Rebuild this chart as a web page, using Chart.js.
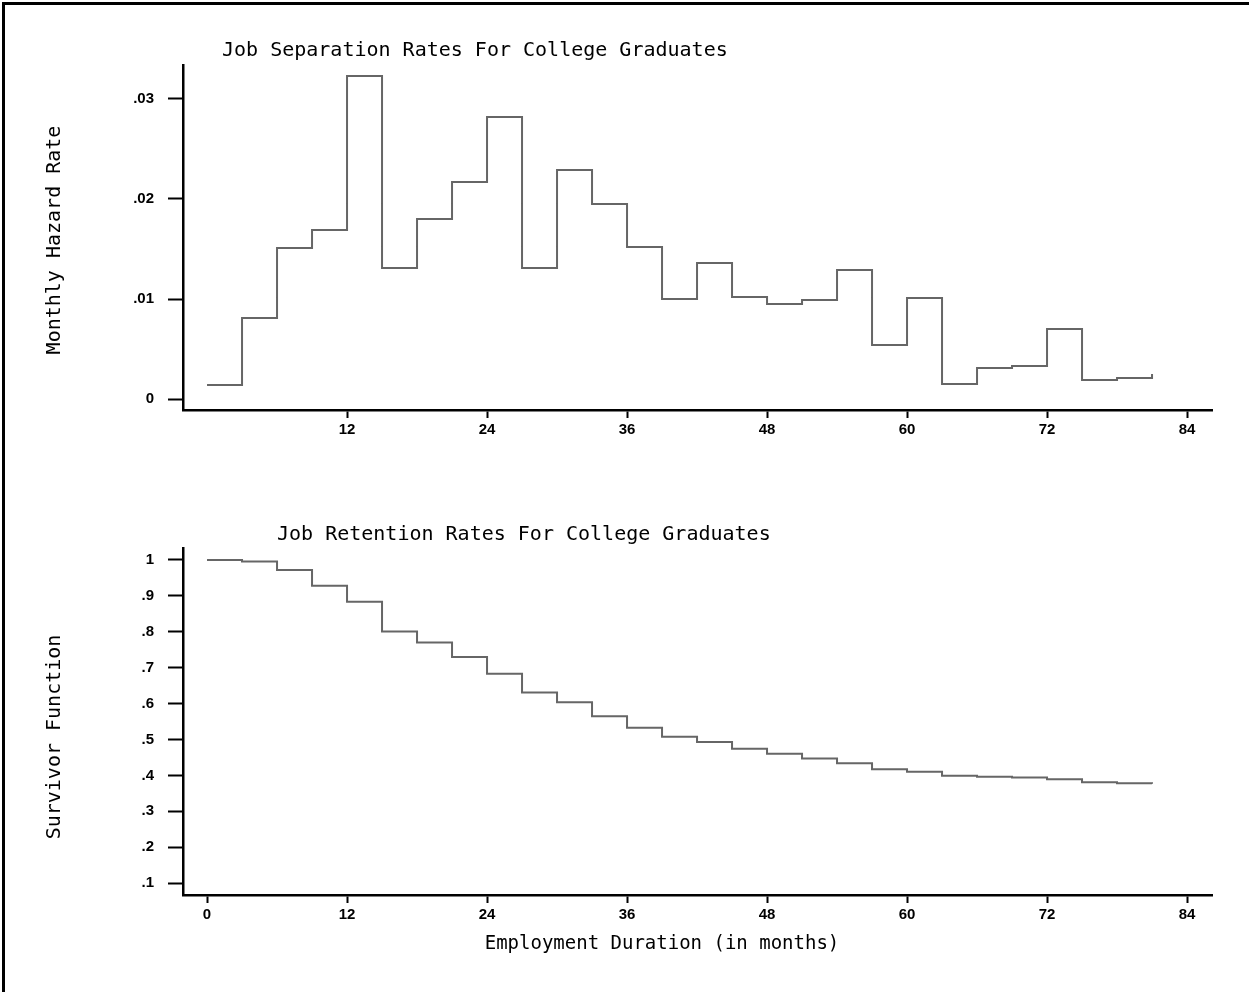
<!DOCTYPE html>
<html>
<head>
<meta charset="utf-8">
<script src="https://cdn.jsdelivr.net/npm/chart.js@4.4.1/dist/chart.umd.min.js"></script>
<style>
    html, body { margin: 0; padding: 0; background: #fff; }
    #page { position: relative; width: 1249px; height: 992px; overflow: hidden; }
    #frame { position: absolute; left: 2px; top: 2px; width: 1300px; height: 1100px;
             border-top: 3px solid #000; border-left: 3px solid #000; }
    canvas { position: absolute; left: 0; }
</style>
</head>
<body>
<div id="page">
    <div id="frame"></div>
    <canvas id="hazard_chart" width="1249" height="496" style="top:0"></canvas>
    <canvas id="survival_chart" width="1249" height="496" style="top:496px"></canvas>
</div>
<script>
// Start month of each 3-month interval (last entry closes the final step)
const months = [0, 3, 6, 9, 12, 15, 18, 21, 24, 27, 30, 33, 36, 39, 42, 45, 48, 51, 54, 57, 60, 63, 66, 69, 72, 75, 78, 81];

// Monthly hazard rate per interval
const hazard_rates = [0.0014, 0.0081, 0.0151, 0.0169, 0.0323, 0.0131, 0.0180, 0.0217, 0.0282, 0.0131,
                      0.0229, 0.0195, 0.0152, 0.0100, 0.0136, 0.0102, 0.0095, 0.0099, 0.0129, 0.0054,
                      0.0101, 0.0015, 0.0031, 0.0033, 0.0070, 0.0019, 0.0021, 0.0025];

// Survivor function per interval
const survivor_values = [1.000, 0.996, 0.972, 0.928, 0.884, 0.801, 0.770, 0.730, 0.683, 0.631,
                         0.604, 0.565, 0.533, 0.508, 0.493, 0.474, 0.460, 0.447, 0.434, 0.417,
                         0.410, 0.399, 0.396, 0.394, 0.389, 0.381, 0.378, 0.377];

// Tick labels
const hazard_x_ticks = [12, 24, 36, 48, 60, 72, 84];
const survivor_x_ticks = [0, 12, 24, 36, 48, 60, 72, 84];
const hazard_y_ticks = [0, 0.01, 0.02, 0.03];
const survivor_y_ticks = [0.1, 0.2, 0.3, 0.4, 0.5, 0.6, 0.7, 0.8, 0.9, 1];

const TITLE_FONT = '20px "DejaVu Sans Mono"';
const TICK_FONT = { family: '"Liberation Sans"', size: 15, weight: 'bold' };
const LINE_COLOR = '#666666';

// stata style: drop the leading zero
const fmt = (v) => {
    if (v === 0) return '0';
    return String(+v.toFixed(3)).replace(/^0\./, '.');
};

// draws free-standing texts (titles) at fixed spots on the canvas
const text_marks = {
    id: 'text_marks',
    afterDraw(chart, args, opts) {
        const ctx = chart.ctx;
        (opts.items || []).forEach(item => {
            ctx.save();
            ctx.font = item.font || TITLE_FONT;
            ctx.fillStyle = '#000';
            ctx.textBaseline = 'middle';
            ctx.textAlign = item.align || 'left';
            ctx.translate(item.x, item.y);
            if (item.rotate) ctx.rotate(-Math.PI / 2);
            ctx.fillText(item.text, 0, 0);
            ctx.restore();
        });
    }
};

const make_scales = (x_ticks, y_ticks, y_min, y_max, x_height) => ({
    x: {
        type: 'linear',
        min: -2.06,
        max: 86.14,
        afterBuildTicks: s => { s.ticks = x_ticks.map(v => ({ value: v })); },
        afterFit: s => { s.height = x_height; },
        grid: { drawOnChartArea: false, tickLength: 8, tickWidth: 2, tickColor: '#000' },
        border: { color: '#000', width: 2.5 },
        ticks: { color: '#000', font: TICK_FONT, padding: 3, autoSkip: false, maxRotation: 0, callback: fmt }
    },
    y: {
        type: 'linear',
        min: y_min,
        max: y_max,
        afterBuildTicks: s => { s.ticks = y_ticks.map(v => ({ value: v })); },
        afterFit: s => { s.width = 183; },
        grid: { drawOnChartArea: false, tickLength: 15, tickWidth: 2, tickColor: '#000' },
        border: { color: '#000', width: 2.5 },
        ticks: { color: '#000', font: TICK_FONT, padding: 14, autoSkip: false, callback: fmt }
    }
});

// horizontal run first, then the jump at the next interval start
const make_dataset = (values) => ({
    data: months.map((m, i) => ({ x: m, y: values[i] })),
    borderColor: LINE_COLOR,
    borderWidth: 2,
    pointRadius: 0,
    fill: false,
    stepped: 'before'
});

const hazard_config = {
    type: 'line',
    data: { datasets: [make_dataset(hazard_rates)] },
    options: {
        responsive: false,
        animation: false,
        layout: { padding: { left: 0, right: 37, top: 65, bottom: 0 } },
        scales: make_scales(hazard_x_ticks, hazard_y_ticks, -0.0011, 0.0334, 86),
        plugins: {
            legend: { display: false },
            tooltip: { enabled: false },
            text_marks: {
                items: [
                    { text: 'Job Separation Rates For College Graduates', x: 222, y: 51 },
                    { text: 'Monthly Hazard Rate', x: 55, y: 240, rotate: true, align: 'center' }
                ]
            }
        }
    },
    plugins: [text_marks]
};

const survival_config = {
    type: 'line',
    data: { datasets: [make_dataset(survivor_values)] },
    options: {
        responsive: false,
        animation: false,
        layout: { padding: { left: 0, right: 37, top: 52, bottom: 0 } },
        scales: make_scales(survivor_x_ticks, survivor_y_ticks, 0.0669, 1.0334, 97),
        plugins: {
            legend: { display: false },
            tooltip: { enabled: false },
            text_marks: {
                items: [
                    { text: 'Job Retention Rates For College Graduates', x: 277, y: 39 },
                    { text: 'Survivor Function', x: 55, y: 241, rotate: true, align: 'center' },
                    { text: 'Employment Duration (in months)', x: 662, y: 448, align: 'center',
                      font: '19px "DejaVu Sans Mono"' }
                ]
            }
        }
    },
    plugins: [text_marks]
};

new Chart(document.getElementById('hazard_chart'), hazard_config);
new Chart(document.getElementById('survival_chart'), survival_config);
</script>
</body>
</html>
